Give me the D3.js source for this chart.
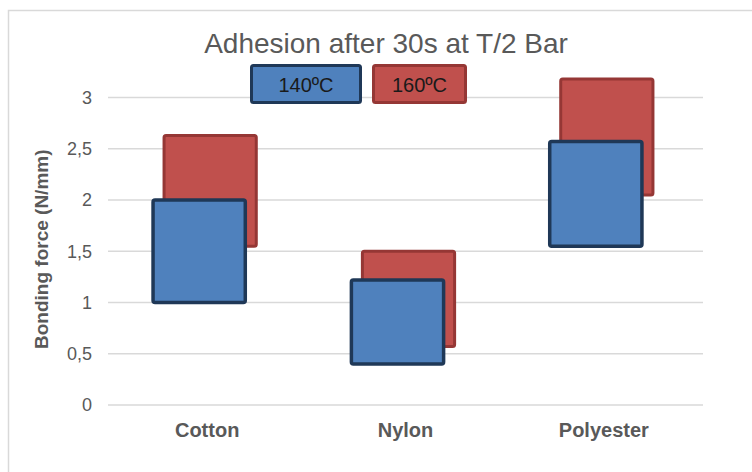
<!DOCTYPE html>
<html>
<head>
<meta charset="utf-8">
<script src="https://cdn.jsdelivr.net/npm/d3@7"></script>
<style>
  body { margin: 0; background: #fff; }
  svg { display: block; font-family: "Liberation Sans", Arial, sans-serif; }
</style>
</head>
<body>
<div class="chart"></div>
<script>
// Chart data
var categories = ["Cotton", "Nylon", "Polyester"];
var seriesNames = ["140ºC", "160ºC"];
var low140 = [1.0, 0.4, 1.55];
var high140 = [2.0, 1.22, 2.57];
var low160 = [1.55, 0.57, 2.05];
var high160 = [2.63, 1.5, 3.18];
var yTicks = [0, 0.5, 1, 1.5, 2, 2.5, 3];
var yTickLabels = ["0", "0,5", "1", "1,5", "2", "2,5", "3"];

function init() {
  var w = 752;
  var h = 472;
  var left = 108, right = 703, top = 97.5, bottom = 405;

  var svg = d3.select(".chart")
    .append("svg")
    .attr("width", w)
    .attr("height", h);

  // Chart frame (cropped at right and bottom)
  svg.append("rect")
    .attr("x", 8.5)
    .attr("y", 10.5)
    .attr("width", 800)
    .attr("height", 500)
    .attr("fill", "none")
    .attr("stroke", "#d9d9d9")
    .attr("stroke-width", 1.5);

  // Scales
  var xScale = d3.scaleBand()
    .domain(categories)
    .range([left, right]);
  var yScale = d3.scaleLinear()
    .domain([0, 3])
    .range([bottom, top]);

  // Gridlines
  svg.append("g")
    .selectAll("line")
    .data(yTicks)
    .enter()
    .append("line")
    .attr("x1", left)
    .attr("x2", right)
    .attr("y1", function (d) { return yScale(d); })
    .attr("y2", function (d) { return yScale(d); })
    .attr("stroke", "#d9d9d9")
    .attr("stroke-width", 1.5);

  // Y axis labels
  var yAxis = d3.axisLeft(yScale)
    .tickValues(yTicks)
    .tickFormat(function (d, i) { return yTickLabels[i]; })
    .tickSize(0)
    .tickPadding(16);
  var yg = svg.append("g")
    .attr("transform", "translate(" + left + ",0)")
    .call(yAxis);
  yg.select(".domain").remove();
  yg.selectAll("text")
    .attr("fill", "#595959")
    .style("font-size", "18px")
    .style("font-family", "'Liberation Sans', Arial, sans-serif");

  // X axis labels
  var xAxis = d3.axisBottom(xScale)
    .tickSize(0)
    .tickPadding(18);
  var xg = svg.append("g")
    .attr("transform", "translate(0," + bottom + ")")
    .call(xAxis);
  xg.select(".domain").remove();
  xg.selectAll("text")
    .attr("fill", "#595959")
    .style("font-size", "20px")
    .style("font-weight", "bold")
    .style("font-family", "'Liberation Sans', Arial, sans-serif");

  // Bars
  var barW = xScale.bandwidth() * 0.465;
  var rows = categories.map(function (c, i) {
    return { cat: c, lo140: low140[i], hi140: high140[i], lo160: low160[i], hi160: high160[i] };
  });

  svg.append("g")
    .selectAll("rect")
    .data(rows)
    .enter()
    .append("rect")
    .attr("x", function (d) { return xScale(d.cat) + xScale.bandwidth() / 2 + 3 - barW / 2; })
    .attr("y", function (d) { return yScale(d.hi160); })
    .attr("width", barW)
    .attr("height", function (d) { return yScale(d.lo160) - yScale(d.hi160); })
    .attr("rx", 2)
    .attr("fill", "#c0504d")
    .attr("stroke", "#953735")
    .attr("stroke-width", 3);

  svg.append("g")
    .selectAll("rect")
    .data(rows)
    .enter()
    .append("rect")
    .attr("x", function (d) { return xScale(d.cat) + xScale.bandwidth() / 2 - 8 - barW / 2; })
    .attr("y", function (d) { return yScale(d.hi140); })
    .attr("width", barW)
    .attr("height", function (d) { return yScale(d.lo140) - yScale(d.hi140); })
    .attr("rx", 2)
    .attr("fill", "#4f81bd")
    .attr("stroke", "#1f3857")
    .attr("stroke-width", 3.5);

  // Title
  svg.append("text")
    .attr("x", 386)
    .attr("y", 53)
    .attr("text-anchor", "middle")
    .attr("fill", "#595959")
    .style("font-size", "28px")
    .text("Adhesion after 30s at T/2 Bar");

  // Y axis title
  svg.append("text")
    .attr("transform", "rotate(-90)")
    .attr("x", -(top + bottom) / 2 + 2)
    .attr("y", 48)
    .attr("text-anchor", "middle")
    .attr("fill", "#595959")
    .style("font-size", "19px")
    .style("font-weight", "bold")
    .text("Bonding force (N/mm)");

  // Legend
  var legendX = [250, 372];
  var legendW = [112, 95];
  var legendFill = ["#4f81bd", "#c0504d"];
  var legendStroke = ["#1f3857", "#953735"];
  var legend = svg.append("g")
    .selectAll("g")
    .data(seriesNames)
    .enter()
    .append("g");
  legend.append("rect")
    .attr("x", function (d, i) { return legendX[i] + 1.5; })
    .attr("y", 65.5)
    .attr("width", function (d, i) { return legendW[i] - 3; })
    .attr("height", 37)
    .attr("rx", 2)
    .attr("fill", function (d, i) { return legendFill[i]; })
    .attr("stroke", function (d, i) { return legendStroke[i]; })
    .attr("stroke-width", 3);
  legend.append("text")
    .attr("x", function (d, i) { return legendX[i] + legendW[i] / 2; })
    .attr("y", 92)
    .attr("text-anchor", "middle")
    .attr("fill", "#1a1a1a")
    .style("font-size", "20px")
    .text(function (d) { return d; });
}
window.onload = init;
</script>
</body>
</html>
